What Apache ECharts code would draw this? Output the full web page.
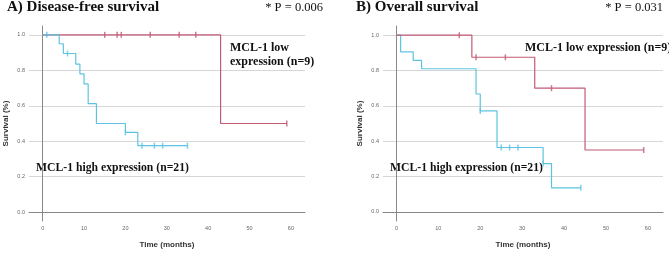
<!DOCTYPE html>
<html>
<head>
<meta charset="utf-8">
<script src="https://cdn.jsdelivr.net/npm/echarts@6/dist/echarts.min.js"></script>
<style>
  html, body { margin: 0; padding: 0; background: #fff; }
  #chart { width: 669px; height: 254px; }
</style>
</head>
<body>
<div id="chart"></div>
<script>
// tick labels
var timeTicks = [0, 10, 20, 30, 40, 50, 60];
var survTicks = [0, 0.2, 0.4, 0.6, 0.8, 1.0];

// A) disease-free survival
var dfsLowTime = [0, 43, 59];
var dfsLowSurv = [1.0, 0.5, 0.5];
var dfsLowCensorTime = [15, 18, 19, 26, 33, 37, 59];
var dfsLowCensorSurv = [1.0, 1.0, 1.0, 1.0, 1.0, 1.0, 0.5];
var dfsHighTime = [0, 4, 5, 8, 9, 10, 11, 13, 20, 23, 35];
var dfsHighSurv = [1.0, 0.95, 0.895, 0.835, 0.78, 0.723, 0.612, 0.5, 0.45, 0.375, 0.375];
var dfsHighCensorTime = [1, 6, 20, 24, 27, 29, 35];
var dfsHighCensorSurv = [1.0, 0.895, 0.45, 0.375, 0.375, 0.375, 0.375];

// B) overall survival
var osLowTime = [0, 18, 33, 45, 59];
var osLowSurv = [1.0, 0.875, 0.70, 0.35, 0.35];
var osLowCensorTime = [15, 19, 26, 37, 59];
var osLowCensorSurv = [1.0, 0.875, 0.875, 0.70, 0.35];
var osHighTime = [0, 1, 4, 6, 19, 20, 24, 35, 37, 44];
var osHighSurv = [1.0, 0.905, 0.857, 0.81, 0.667, 0.571, 0.364, 0.273, 0.136, 0.136];
var osHighCensorTime = [20, 25, 27, 29, 35, 44];
var osHighCensorSurv = [0.571, 0.364, 0.364, 0.364, 0.273, 0.136];

var red = '#c45a74';
var blue = '#5ec3e2';

function pairs(xs, ys) {
    var out = [];
    for (var i = 0; i < xs.length; i++) {
        out.push([xs[i], ys[i]]);
    }
    return out;
}

function curve(idx, xs, ys, color) {
    return {
        type: 'line', step: 'end', xAxisIndex: idx, yAxisIndex: idx,
        data: pairs(xs, ys), symbol: 'none', animation: false,
        lineStyle: {color: color, width: 1.2}
    };
}

function censor(idx, xs, ys, color) {
    return {
        type: 'scatter', xAxisIndex: idx, yAxisIndex: idx,
        data: pairs(xs, ys), symbol: 'rect', symbolSize: [1.5, 6],
        itemStyle: {color: color}, animation: false
    };
}

function xAxis(idx, min, max) {
    return {
        type: 'value', gridIndex: idx, min: min, max: max,
        name: 'Time (months)', nameLocation: 'middle', nameGap: 20,
        nameTextStyle: {fontFamily: 'Liberation Sans', fontSize: 8, fontWeight: 'bold', color: '#333'},
        axisLine: {show: true, lineStyle: {color: '#888', width: 1}},
        axisTick: {show: false, customValues: timeTicks},
        axisLabel: {customValues: timeTicks, fontSize: 5.5, color: '#666', margin: 4, fontFamily: 'Liberation Sans'},
        splitLine: {show: false}
    };
}

function yAxis(idx, min, max) {
    return {
        type: 'value', gridIndex: idx, min: min, max: max,
        name: 'Survival (%)', nameLocation: 'middle', nameGap: 19,
        nameTextStyle: {fontFamily: 'Liberation Sans', fontSize: 8, fontWeight: 'bold', color: '#333'},
        axisLine: {show: true, lineStyle: {color: '#888', width: 1}},
        axisTick: {show: false, customValues: survTicks},
        axisLabel: {customValues: survTicks, fontSize: 5.5, color: '#666', margin: 4, fontFamily: 'Liberation Sans',
            formatter: function (v) { return v.toFixed(1); }},
        splitLine: {show: true, lineStyle: {color: '#d6d6d6', width: 1}}
    };
}

function label(x, y, text, size, bold) {
    return {
        type: 'text', left: x, top: y,
        style: {
            text: text, fill: '#111',
            font: (bold ? 'bold ' : '') + size + 'px "Liberation Serif"'
        }
    };
}

function rightLabel(x, y, text, size) {
    return {
        type: 'text', right: 669 - x, top: y,
        style: {text: text, fill: '#111', font: size + 'px "Liberation Serif"'}
    };
}

var chart = echarts.init(document.getElementById('chart'));
chart.setOption({
    backgroundColor: '#fff',
    animation: false,
    grid: [
        {left: 29, top: 26, width: 276, height: 195},
        {left: 383, top: 26, width: 280, height: 197}
    ],
    xAxis: [xAxis(0, -3.3, 63.4), xAxis(1, -3.2, 63.6)],
    yAxis: [yAxis(0, -0.05, 1.05), yAxis(1, -0.052, 1.052)],
    series: [
        curve(0, dfsLowTime, dfsLowSurv, red),
        censor(0, dfsLowCensorTime, dfsLowCensorSurv, red),
        curve(0, dfsHighTime, dfsHighSurv, blue),
        censor(0, dfsHighCensorTime, dfsHighCensorSurv, blue),
        curve(1, osHighTime, osHighSurv, blue),
        censor(1, osHighCensorTime, osHighCensorSurv, blue),
        curve(1, osLowTime, osLowSurv, red),
        censor(1, osLowCensorTime, osLowCensorSurv, red)
    ],
    graphic: [
        label(7, 0, 'A) Disease-free survival', 15, true),
        rightLabel(323, 1, '* P = 0.006', 12.5),
        label(356, 0, 'B) Overall survival', 15, true),
        rightLabel(663, 1, '* P = 0.031', 12.5),
        label(230, 42, 'MCL-1 low', 12, true),
        label(230, 56, 'expression (n=9)', 12, true),
        label(36, 162, 'MCL-1 high expression (n=21)', 11.7, true),
        label(525, 42, 'MCL-1 low expression (n=9)', 12, true),
        label(390, 162, 'MCL-1 high expression (n=21)', 11.7, true)
    ]
});
</script>
</body>
</html>
